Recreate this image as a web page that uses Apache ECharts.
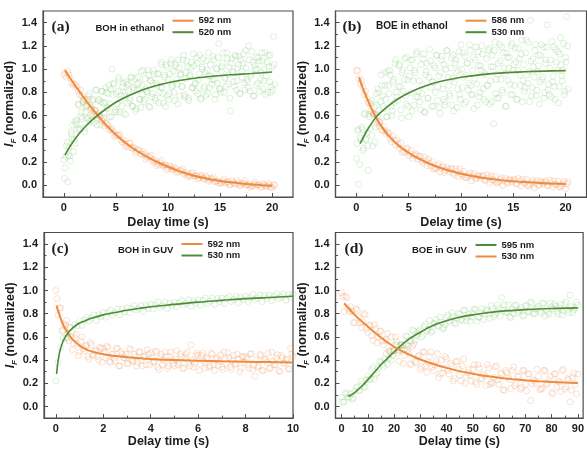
<!DOCTYPE html>
<html><head><meta charset="utf-8">
<script src="https://cdn.jsdelivr.net/npm/echarts@6/dist/echarts.min.js"></script>
<style>html,body{margin:0;padding:0;background:#fff}#c{width:587px;height:449px}</style>
</head><body><div id="c"></div><script>
// ---------- tick labels ----------
const yTicks=[0,0.2,0.4,0.6,0.8,1.0,1.2,1.4];
const yMinorTicks=[0.1,0.3,0.5,0.7,0.9,1.1,1.3];
const xTicksAB=[0,5,10,15,20], xMinorAB=[2.5,7.5,12.5,17.5];
const xTicksC=[0,2,4,6,8,10], xMinorC=[1,3,5,7,9];
const xTicksD=[0,10,20,30,40,50,60,70,80,90], xMinorD=[5,15,25,35,45,55,65,75,85];

// ---------- panel (a) BOH in ethanol ----------
const aOrgY=[0.95,0.93,0.95,0.88,0.87,0.85,0.78,0.77,0.74,0.68,
 0.69,0.63,0.64,0.58,0.59,0.55,0.53,0.515,0.48,0.46,
 0.43,0.43,0.39,0.39,0.355,0.36,0.325,0.325,0.295,0.30,
 0.27,0.265,0.24,0.245,0.22,0.215,0.19,0.195,0.17,0.175,
 0.15,0.16,0.135,0.14,0.12,0.125,0.105,0.11,0.09,0.10,
 0.08,0.085,0.065,0.075,0.055,0.065,0.045,0.055,0.03,0.04,
 0.025,0.035,0.02,0.03,0.01,0.025,0.01,0.02,0.0,0.015,
 0.005,0.01,-0.005,0.01,0.0,0.005,-0.01,0.005,-0.01,0.0,
 -0.015,0.0];
const aOrgY2=[0.97,0.98,0.92,0.86,0.87,0.81,0.82,0.735,0.74,0.74,
 0.66,0.61,0.60,0.62,0.564,0.51,0.535,0.48,0.49,0.42,
 0.435,0.44,0.37,0.335,0.33,0.365,0.32,0.275,0.31,0.27,
 0.29,0.225,0.25,0.26,0.20,0.17,0.175,0.215,0.175,0.135,
 0.17,0.14,0.155,0.11,0.13,0.14,0.095,0.075,0.08,0.11,
 0.08,0.055,0.085,0.06,0.08,0.035,0.06,0.07,0.035,0.015,
 0.02,0.055,0.03,0.005,0.04,0.015,0.04,0.0,0.02,0.04,
 0.0,-0.015,-0.005,0.025,0.005,-0.02,0.015,-0.005,0.015,-0.02,
 0.005];
const aGrnY=[0.22,0.15,0.34,0.03,0.32,0.21,0.44,0.52,0.39,0.36,
 0.56,0.70,0.49,0.59,0.57,0.71,0.46,0.68,0.58,0.77,
 0.55,0.67,0.73,0.54,0.65,0.82,0.61,0.74,0.52,0.81,
 0.71,0.62,0.84,0.67,0.79,0.59,0.83,1.00,0.88,0.63,
 0.79,0.70,0.93,0.63,0.77,0.85,0.62,0.80,0.89,0.71,
 0.87,0.75,0.93,0.68,0.82,0.64,0.87,0.93,0.74,0.67,
 0.86,0.99,0.74,0.83,0.80,0.95,0.67,0.90,0.79,0.99,
 0.75,0.88,0.96,0.71,0.85,1.06,0.79,0.95,0.68,1.02,
 0.91,0.79,1.05,0.85,0.98,0.73,1.02,0.87,1.08,0.77,
 0.96,0.85,1.12,0.76,0.92,1.02,0.73,0.95,1.06,0.84,
 1.03,0.88,1.10,0.79,0.96,0.74,1.02,1.09,0.85,0.77,
 0.99,1.14,0.84,0.94,0.91,1.08,0.74,1.01,0.88,1.22,
 0.83,0.98,1.05,0.80,0.93,1.14,0.87,1.02,0.64,1.09,
 0.97,0.85,1.11,0.90,1.04,0.79,1.08,0.93,1.13,0.82,
 1.01,0.89,1.20,0.81,0.96,1.06,0.77,1.00,1.10,0.88,
 1.07,0.91,1.14,0.83,1.00,0.78,1.06,1.12,0.89,0.80,
 1.02,1.28,0.87];
const aGrnY2=[0.06,0.25,0.37,0.26,0.25,0.46,0.40,0.29,0.55,0.53,
 0.48,0.69,0.48,0.63,0.72,0.49,0.63,0.69,0.57,0.79,
 0.60,0.56,0.74,0.645,0.82,0.52,0.73,0.60,0.72,0.81,
 0.58,0.71,0.80,0.66,0.86,0.70,0.59,0.78,0.87,0.65,
 0.63,0.81,0.91,0.74,0.68,0.88,0.77,0.61,0.87,0.81,
 0.73,0.93,0.68,0.84,0.92,0.66,0.82,0.88,0.74,0.98,
 0.78,0.72,0.92,0.81,0.99,0.68,0.90,0.76,0.88,0.96,
 0.73,0.86,0.96,0.80,1.04,0.84,0.71,0.93,1.04,0.77,
 0.74,0.96,1.08,0.86,0.80,1.04,0.91,0.70,1.01,0.95,
 0.85,1.08,0.78,0.97,1.07,0.75,0.94,1.01,0.84,1.13,
 0.87,0.81,1.05,0.91,1.12,0.75,1.00,0.83,0.97,1.07,
 0.79,0.94,1.04,0.87,1.11,0.91,0.78,1.00,1.10,0.83,
 0.80,1.02,1.14,0.92,0.85,1.09,0.95,0.75,1.05,0.98,
 0.89,1.12,0.82,1.01,1.11,0.79,0.98,1.05,0.88,1.16,
 0.91,0.84,1.08,0.94,1.15,0.77,1.03,0.86,1.00,1.10,
 0.81,0.97,1.07,0.90,1.14,0.94,0.80,1.02,1.12,0.85,
 0.82,1.04];
const aOrgFitT=[0.1,1,2,3,4,5,6,7,8,9,10,11,12,13,14,15,16,17,18,19,20];
const aOrgFitY=[0.99,0.87,0.745,0.63,0.525,0.435,0.36,0.298,0.245,0.199,0.16,0.125,0.096,0.072,0.053,0.038,0.026,0.016,0.008,0.002,-0.003];
const aGrnFitT=[0.1,1,2,3,4,5,6,7,8,9,10,12,14,16,18,20];
const aGrnFitY=[0.26,0.39,0.50,0.585,0.655,0.715,0.763,0.802,0.835,0.861,0.883,0.915,0.936,0.951,0.962,0.975];

// ---------- panel (b) BOE in ethanol ----------
const bOrgY=[0.99,0.92,0.90,0.78,0.75,0.71,0.63,0.61,0.53,0.54,
 0.475,0.47,0.45,0.40,0.425,0.345,0.355,0.365,0.30,0.315,
 0.255,0.30,0.255,0.26,0.25,0.21,0.24,0.17,0.19,0.205,
 0.15,0.17,0.115,0.165,0.13,0.14,0.14,0.105,0.14,0.075,
 0.10,0.12,0.065,0.09,0.04,0.10,0.065,0.08,0.08,0.045,
 0.09,0.025,0.05,0.075,0.02,0.05,0.0,0.06,0.025,0.045,
 0.045,0.015,0.06,-0.005,0.025,0.05,-0.005,0.025,-0.02,0.04,
 0.005,0.025,0.03,0.0,0.045,-0.015,0.01,0.035,-0.015,0.015,
 -0.03,0.03];
const bOrgY2=[0.985,0.875,0.845,0.81,0.71,0.64,0.61,0.615,0.548,0.48,
 0.50,0.44,0.45,0.375,0.39,0.39,0.32,0.285,0.285,0.32,
 0.273,0.23,0.27,0.225,0.25,0.19,0.21,0.225,0.165,0.14,
 0.145,0.185,0.148,0.11,0.155,0.117,0.145,0.09,0.12,0.14,
 0.088,0.068,0.075,0.105,0.08,0.055,0.085,0.06,0.082,0.043,
 0.065,0.08,0.043,0.025,0.033,0.065,0.042,0.019,0.052,0.029,
 0.052,0.014,0.038,0.054,0.017,0.001,0.011,0.044,0.022,0.0,
 0.034,0.012,0.036,-0.001,0.023,0.04,0.005,-0.011,-0.001,0.033,
 0.012];
const bGrnY=[0.23,0.47,0.01,0.41,0.50,0.30,0.61,0.40,0.45,0.13,
 0.59,0.70,0.43,0.62,0.37,0.79,0.60,0.80,0.55,0.95,
 0.77,0.66,0.86,0.59,0.98,0.79,0.95,0.60,0.89,0.71,
 1.08,0.76,0.85,1.04,0.65,0.97,0.81,1.09,0.70,0.91,
 0.59,1.01,0.80,1.08,0.69,0.97,1.13,0.76,0.90,0.65,
 0.79,1.09,0.63,0.95,1.05,0.75,1.17,0.84,0.89,0.68,
 1.01,1.12,0.73,0.94,0.62,1.08,0.83,1.04,0.72,1.16,
 0.93,0.79,1.01,0.69,1.12,0.89,1.08,0.67,0.99,0.78,
 1.21,0.84,0.93,1.11,0.72,1.05,0.88,1.16,0.78,0.99,
 0.66,1.08,0.87,1.15,0.76,1.03,1.20,0.83,0.97,0.72,
 0.86,1.16,0.70,1.02,1.12,0.53,1.23,0.91,0.96,0.75,
 1.07,1.19,0.80,1.01,0.68,1.14,0.90,1.10,0.78,1.22,
 0.99,0.86,1.06,0.74,1.18,0.95,1.13,0.72,1.04,0.84,
 1.25,0.88,0.98,1.42,0.77,1.09,0.93,1.21,0.82,1.03,
 0.70,1.12,0.91,1.19,0.80,1.08,1.38,0.87,1.01,0.76,
 0.89,1.19,0.74,1.06,1.15,0.85,1.27,0.94,0.99,0.78,
 1.10,1.45,0.83];
const bGrnY2=[0.36,0.48,0.18,0.39,0.48,0.32,0.62,0.39,0.34,0.61,
 0.49,0.73,0.34,0.67,0.50,0.69,0.83,0.51,0.72,0.86,
 0.68,0.97,0.74,0.59,0.86,0.99,0.68,0.64,0.91,1.05,
 0.80,0.73,1.03,0.85,0.58,0.99,0.91,0.77,1.10,0.68,
 0.94,1.08,0.64,0.90,0.99,0.76,1.15,0.81,0.72,1.04,
 0.86,1.13,0.63,0.98,0.75,0.93,1.07,0.68,0.89,1.03,
 0.80,1.12,0.85,0.67,0.97,1.11,0.74,0.69,1.00,1.16,
 0.86,0.77,1.10,0.92,0.64,1.05,0.97,0.83,1.15,0.74,
 1.00,1.14,0.70,0.95,1.05,0.82,1.21,0.86,0.78,1.10,
 0.92,1.19,0.69,1.03,0.80,0.99,1.13,0.74,0.95,1.09,
 0.86,1.18,0.90,0.72,1.02,1.16,0.79,0.75,1.05,1.21,
 0.91,0.82,1.14,0.96,0.68,1.10,1.01,0.87,1.20,0.78,
 1.04,1.18,0.74,0.99,1.09,0.86,1.25,0.90,0.81,1.14,
 0.95,1.23,0.72,1.07,0.84,1.02,1.16,0.77,0.98,1.12,
 0.89,1.21,0.93,0.75,1.05,1.19,0.82,0.78,1.08,1.24,
 0.94,0.85,1.17,0.99,0.71,1.13,1.04,0.90,1.22,0.81,
 1.06,1.20];
const bOrgFitT=[0.25,0.5,1,1.5,2,2.5,3,4,5,6,7,8,9,10,12,14,16,18,20];
const bOrgFitY=[0.93,0.865,0.75,0.65,0.565,0.495,0.435,0.345,0.28,0.228,0.186,0.152,0.124,0.10,0.066,0.043,0.028,0.018,0.012];
const bGrnFitT=[0.35,1,1.5,2,3,4,5,6,7,8,9,10,12,14,16,18,20];
const bGrnFitY=[0.36,0.47,0.54,0.60,0.68,0.745,0.795,0.835,0.868,0.893,0.913,0.93,0.953,0.968,0.977,0.983,0.987];

// ---------- panel (c) BOH in GUV ----------
const cOrgY=[1.00,0.79,0.85,0.65,0.70,0.59,0.68,0.49,0.59,0.54,
 0.47,0.60,0.48,0.53,0.41,0.53,0.45,0.48,0.40,0.50,
 0.50,0.42,0.51,0.38,0.45,0.39,0.50,0.35,0.45,0.42,
 0.37,0.50,0.40,0.45,0.35,0.47,0.40,0.43,0.36,0.45,
 0.46,0.38,0.48,0.34,0.42,0.36,0.47,0.33,0.43,0.40,
 0.35,0.48,0.38,0.43,0.33,0.45,0.38,0.53,0.34,0.44,
 0.44,0.37,0.46,0.33,0.41,0.35,0.45,0.31,0.42,0.39,
 0.34,0.47,0.37,0.42,0.32,0.44,0.37,0.41,0.33,0.43,
 0.43,0.36,0.45,0.32,0.26,0.34,0.45,0.31,0.41,0.38,
 0.33,0.47,0.36,0.42,0.31,0.44,0.37,0.40,0.32,0.50,0.43];
const cOrgY2=[0.93,0.85,0.655,0.71,0.74,0.565,0.60,0.545,0.62,0.44,
 0.56,0.50,0.52,0.43,0.55,0.44,0.48,0.43,0.51,0.38,
 0.47,0.52,0.39,0.45,0.415,0.50,0.35,0.47,0.42,0.45,
 0.37,0.49,0.39,0.43,0.38,0.47,0.35,0.435,0.49,0.36,
 0.42,0.39,0.47,0.32,0.45,0.40,0.43,0.35,0.47,0.37,
 0.41,0.36,0.455,0.33,0.42,0.47,0.35,0.40,0.375,0.46,
 0.31,0.44,0.39,0.42,0.34,0.46,0.36,0.405,0.355,0.445,
 0.32,0.41,0.465,0.34,0.395,0.365,0.45,0.30,0.43,0.38,
 0.41,0.33,0.455,0.355,0.40,0.35,0.44,0.31,0.40,0.46,
 0.33,0.39,0.36,0.445,0.30,0.42,0.375,0.41,0.325,0.45];
const cGrnY=[0.22,0.38,0.51,0.59,0.585,0.63,0.68,0.645,0.705,0.695,
 0.74,0.70,0.745,0.77,0.74,0.76,0.79,0.74,0.79,0.775,
 0.81,0.77,0.81,0.83,0.79,0.81,0.84,0.79,0.84,0.815,
 0.85,0.81,0.845,0.87,0.83,0.845,0.87,0.82,0.87,0.845,
 0.88,0.84,0.875,0.90,0.855,0.87,0.90,0.845,0.89,0.87,
 0.90,0.86,0.895,0.915,0.875,0.89,0.92,0.865,0.91,0.89,
 0.92,0.875,0.915,0.935,0.89,0.908,0.935,0.88,0.93,0.905,
 0.935,0.89,0.93,0.95,0.905,0.923,0.95,0.895,0.94,0.92,
 0.95,0.905,0.94,0.965,0.92,0.935,0.96,0.905,0.955,0.93,
 0.96,0.915,0.95,0.975,0.93,0.945,0.97,0.915,0.965,0.94,0.97];
const cOrgFitT=[0.03,0.1,0.2,0.3,0.4,0.5,0.6,0.75,1,1.25,1.5,2,2.5,3,4,5,6,7,8,9,10];
const cOrgFitY=[0.87,0.82,0.76,0.71,0.67,0.635,0.605,0.57,0.525,0.495,0.475,0.45,0.435,0.425,0.41,0.40,0.395,0.39,0.386,0.383,0.38];
const cGrnFitT=[0.03,0.06,0.1,0.15,0.2,0.3,0.4,0.5,0.6,0.75,1,1.25,1.5,2,2.5,3,3.5,4,5,6,7,8,9,10];
const cGrnFitY=[0.28,0.34,0.40,0.46,0.50,0.56,0.60,0.63,0.655,0.685,0.72,0.74,0.76,0.79,0.81,0.83,0.845,0.86,0.88,0.90,0.915,0.93,0.94,0.95];

// ---------- panel (d) BOE in GUV ----------
const dOrgY=[0.98,0.82,0.94,0.82,0.82,0.72,0.83,0.72,0.73,0.79,
 0.64,0.70,0.57,0.67,0.60,0.65,0.53,0.58,0.48,0.60,
 0.48,0.56,0.39,0.48,0.44,0.49,0.37,0.52,0.39,0.43,
 0.32,0.47,0.35,0.38,0.47,0.31,0.39,0.25,0.40,0.33,
 0.41,0.28,0.35,0.24,0.39,0.27,0.35,0.20,0.29,0.27,
 0.32,0.21,0.36,0.24,0.28,0.18,0.33,0.21,0.25,0.35,
 0.19,0.28,0.14,0.29,0.23,0.31,0.18,0.26,0.15,0.31,
 0.19,0.28,0.05,0.23,0.20,0.26,0.15,0.31,0.19,0.23,
 0.12,0.28,0.17,0.21,0.31,0.15,0.24,0.04,0.25,0.19,0.28];
const dOrgY2=[0.95,0.95,0.84,0.86,0.725,0.84,0.77,0.68,0.80,0.67,
 0.70,0.61,0.705,0.55,0.65,0.565,0.57,0.63,0.48,0.48,
 0.60,0.48,0.53,0.37,0.53,0.46,0.36,0.54,0.38,0.44,
 0.34,0.47,0.295,0.43,0.34,0.36,0.455,0.28,0.29,0.43,
 0.31,0.37,0.22,0.385,0.32,0.22,0.41,0.26,0.32,0.22,
 0.36,0.19,0.33,0.24,0.265,0.36,0.19,0.20,0.34,0.23,
 0.29,0.145,0.31,0.25,0.155,0.34,0.20,0.26,0.165,0.31,
 0.135,0.28,0.195,0.22,0.32,0.145,0.16,0.31,0.20,0.26,
 0.11,0.28,0.22,0.13,0.32,0.17,0.23,0.14,0.285,0.11];
const dGrnY=[0.08,0.04,0.12,0.08,0.065,0.13,0.17,0.14,0.19,0.17,
 0.26,0.24,0.34,0.27,0.335,0.385,0.345,0.455,0.415,0.40,
 0.485,0.53,0.485,0.535,0.495,0.60,0.57,0.66,0.57,0.63,
 0.665,0.62,0.71,0.665,0.64,0.715,0.75,0.69,0.73,0.68,
 0.77,0.73,0.81,0.72,0.764,0.795,0.74,0.83,0.77,0.735,
 0.805,0.835,0.77,0.805,0.75,0.835,0.795,0.87,0.775,0.815,
 0.845,0.94,0.875,0.815,0.775,0.84,0.87,0.805,0.835,0.78,
 0.865,0.82,0.90,0.80,0.84,0.865,0.805,0.89,0.835,0.795,
 0.86,0.885,0.82,0.85,0.79,0.88,0.835,0.96,0.81,0.85,0.875];
const dGrnY2=[0.04,0.11,0.08,0.11,0.07,0.16,0.135,0.22,0.165,0.23,
 0.23,0.32,0.235,0.29,0.39,0.365,0.41,0.365,0.47,0.44,
 0.535,0.46,0.53,0.525,0.61,0.52,0.56,0.65,0.61,0.65,
 0.60,0.69,0.65,0.74,0.65,0.715,0.70,0.77,0.67,0.705,
 0.79,0.745,0.775,0.71,0.80,0.75,0.83,0.74,0.795,0.775,
 0.84,0.735,0.77,0.845,0.80,0.825,0.76,0.845,0.795,0.875,
 0.78,0.83,0.81,0.875,0.765,0.80,0.875,0.825,0.855,0.785,
 0.87,0.815,0.89,0.80,0.85,0.825,0.89,0.78,0.815,0.89,
 0.84,0.865,0.795,0.88,0.825,0.90,0.81,0.86,0.835,0.90];
const dGrnFitT=[2.5,5,7.5,10,12.5,15,17.5,20,25,30,35,40,45,50,55,60,70,80,90];
const dGrnFitY=[0.085,0.12,0.17,0.23,0.295,0.36,0.415,0.47,0.57,0.64,0.70,0.74,0.77,0.79,0.806,0.82,0.835,0.845,0.85];
const dOrgFitT=[1,5,10,15,20,25,30,35,40,45,50,55,60,65,70,75,80,85,90];
const dOrgFitY=[0.89,0.79,0.69,0.595,0.515,0.455,0.405,0.366,0.333,0.305,0.282,0.263,0.248,0.236,0.226,0.218,0.212,0.207,0.203];

// ---------- styling ----------
const AX='#4d4d4d', TXT='#1c1c1c', FONT='"Liberation Sans", Arial, sans-serif';
const ORG='#ef8a3e', GRN='#4e8c37';
const ORG_S='rgba(241,150,95,0.45)', GRN_S='rgba(118,196,108,0.38)';

// sampling: [values, first time, time step]
const pairsStep=(ys,t0,step)=>ys.map((y,i)=>[+(t0+i*step).toFixed(4),y]);
const pairsXY=(xs,ys)=>xs.map((x,i)=>[x,ys[i]]);

const panels=[
 {grid:{left:43,top:11,width:250,height:186},xmin:-2,xmax:22,xt:xTicksAB,xm:xMinorAB,xGap:19,
  scat:[[aGrnY,0,0.125,GRN_S],[aGrnY2,0.0625,0.125,GRN_S],[aOrgY,0,0.25,ORG_S],[aOrgY2,0.125,0.25,ORG_S]],
  fits:[['a592',aOrgFitT,aOrgFitY,ORG,2],['a520',aGrnFitT,aGrnFitY,GRN,1.6]],
  leg:{left:172.5,top:15.2}},
 {grid:{left:335.5,top:11,width:251,height:186},xmin:-2,xmax:22,xt:xTicksAB,xm:xMinorAB,xGap:19,
  scat:[[bGrnY,0,0.125,GRN_S],[bGrnY2,0.0625,0.125,GRN_S],[bOrgY,0,0.25,ORG_S],[bOrgY2,0.125,0.25,ORG_S]],
  fits:[['b586',bOrgFitT,bOrgFitY,ORG,2],['b530',bGrnFitT,bGrnFitY,GRN,1.6]],
  leg:{left:465.5,top:15.2}},
 {grid:{left:44,top:232.5,width:249,height:186},xmin:-0.5,xmax:10,xt:xTicksC,xm:xMinorC,xGap:16,
  scat:[[cOrgY,0,0.1,ORG_S],[cOrgY2,0.05,0.1,ORG_S],[cGrnY,0,0.1,GRN_S]],
  fits:[['c592',cOrgFitT,cOrgFitY,ORG,2],['c530',cGrnFitT,cGrnFitY,GRN,1.6]],
  leg:{left:181.5,top:238.5}},
 {grid:{left:335.5,top:232.5,width:250,height:186},xmin:-2.3,xmax:92,xt:xTicksD,xm:xMinorD,xGap:16,
  scat:[[dOrgY,0,1,ORG_S],[dOrgY2,0.5,1,ORG_S],[dGrnY,0,1,GRN_S],[dGrnY2,0.5,1,GRN_S]],
  fits:[['d595',dGrnFitT,dGrnFitY,GRN,1.6],['d530',dOrgFitT,dOrgFitY,ORG,2]],
  leg:{left:475.5,top:239.5}}
];

const grid=[],xAxis=[],yAxis=[],series=[],legend=[];
const lbl={fontSize:11,fontWeight:'bold',color:TXT,fontFamily:FONT};
panels.forEach((p,k)=>{
  grid.push(Object.assign({show:true,borderColor:AX,borderWidth:1.2,backgroundColor:'transparent',containLabel:false},p.grid));
  const xi=2*k;
  xAxis.push({gridIndex:k,type:'value',min:p.xmin,max:p.xmax,position:'bottom',
    axisLine:{show:true,onZero:false,lineStyle:{color:AX,width:1.2}},
    axisTick:{show:true,inside:true,length:4,customValues:p.xt,lineStyle:{color:AX,width:1}},
    axisLabel:{show:true,customValues:p.xt,margin:5,...lbl},
    splitLine:{show:false},
    name:'Delay time (s)',nameLocation:'middle',nameGap:p.xGap,
    nameTextStyle:{fontSize:12.5,fontWeight:'bold',color:TXT,fontFamily:FONT}});
  xAxis.push({gridIndex:k,type:'value',min:p.xmin,max:p.xmax,position:'bottom',
    axisLine:{show:false,onZero:false},axisLabel:{show:false},splitLine:{show:false},
    axisTick:{show:true,inside:true,length:2.5,customValues:p.xm,lineStyle:{color:AX,width:1}}});
  yAxis.push({gridIndex:k,type:'value',min:-0.1,max:1.5,position:'left',
    axisLine:{show:true,onZero:false,lineStyle:{color:AX,width:1.2}},
    axisTick:{show:true,inside:true,length:4,customValues:yTicks,lineStyle:{color:AX,width:1}},
    axisLabel:{show:true,customValues:yTicks,margin:6,formatter:v=>v.toFixed(1),...lbl},
    splitLine:{show:false},
    name:'{it|I}{sub|F}{n| (normalized)}',nameLocation:'middle',nameGap:21,
    nameTextStyle:{fontSize:12.5,fontWeight:'bold',color:TXT,fontFamily:FONT,
      rich:{it:{fontSize:12.5,fontWeight:'bold',fontStyle:'italic',color:TXT,fontFamily:FONT,lineHeight:16},
            sub:{fontSize:8,fontWeight:'bold',fontStyle:'italic',color:TXT,fontFamily:FONT,lineHeight:16,verticalAlign:'bottom',padding:[5,0,0,0]},
            n:{fontSize:12.5,fontWeight:'bold',color:TXT,fontFamily:FONT,lineHeight:16}}}});
  yAxis.push({gridIndex:k,type:'value',min:-0.1,max:1.5,position:'left',
    axisLine:{show:false,onZero:false},axisLabel:{show:false},splitLine:{show:false},
    axisTick:{show:true,inside:true,length:2.5,customValues:yMinorTicks,lineStyle:{color:AX,width:1}}});
  p.scat.forEach(([ys,t0,step,col])=>{
    series.push({type:'scatter',xAxisIndex:xi,yAxisIndex:xi,data:pairsStep(ys,t0,step),
      symbol:'circle',symbolSize:6,silent:true,z:2,
      itemStyle:{color:'rgba(0,0,0,0)',borderColor:col,borderWidth:0.8}});
  });
  p.fits.forEach(([name,ts,ys,col,w])=>{
    series.push({type:'line',name:name,xAxisIndex:xi,yAxisIndex:xi,data:pairsXY(ts,ys),
      smooth:0.35,symbol:'none',showSymbol:false,z:4,silent:true,
      lineStyle:{color:col,width:w},itemStyle:{color:col}});
  });
  legend.push({orient:'vertical',left:p.leg.left,top:p.leg.top,itemWidth:21,itemHeight:2,itemGap:0.5,
    icon:'rect',padding:0,selectedMode:false,data:p.fits.map(f=>f[0]),
    formatter:n=>n.slice(1)+' nm',
    textStyle:{fontSize:9.5,fontWeight:'bold',color:TXT,fontFamily:FONT,lineHeight:11}});
});

const serif='bold 15.5px "Liberation Serif", "Times New Roman", serif';
const sans=s=>'bold '+s+'px "Liberation Sans", Arial, sans-serif';
const texts=[
  ['(a)',51.5,26.5,serif],['BOH in ethanol',95.5,28,sans(9.5)],
  ['(b)',342.5,26.5,serif],['BOE in ethanol',376,26.5,sans(10)],
  ['(c)',51.5,248.5,serif],['BOH in GUV',118,250,sans(9.5)],
  ['(d)',344.5,248.5,serif],['BOE in GUV',412,250,sans(9.5)]
];
const graphic=texts.map(([t,x,y,f])=>({type:'text',x:x,y:y,silent:true,z:10,
  style:{text:t,font:f,fill:TXT,align:'left',verticalAlign:'middle'}}));

const chart=echarts.init(document.getElementById('c'),null,{renderer:'canvas'});
chart.setOption({animation:false,backgroundColor:'#fff',grid,xAxis,yAxis,series,legend,graphic});
</script></body></html>
